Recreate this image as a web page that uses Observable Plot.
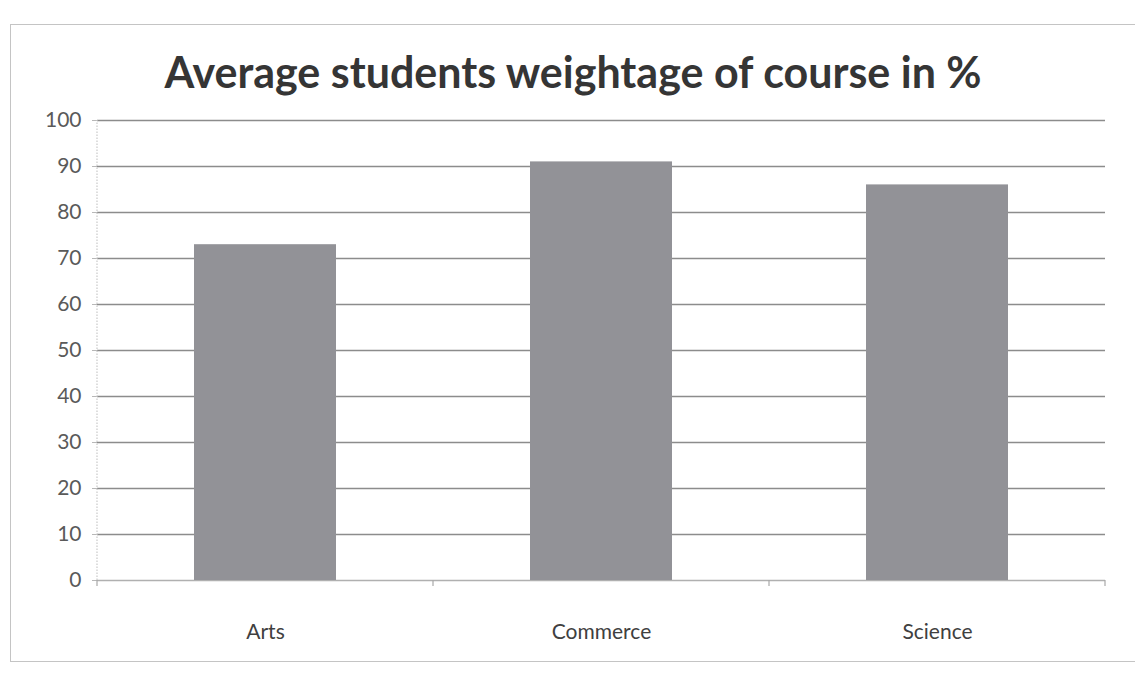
<!DOCTYPE html>
<html>
<head>
<meta charset="utf-8">
<script src="https://cdn.jsdelivr.net/npm/d3@7"></script>
<script src="https://cdn.jsdelivr.net/npm/@observablehq/plot@0.6"></script>
<style>
  html, body { margin: 0; padding: 0; background: #ffffff; overflow: hidden; }
  #page { position: relative; width: 1135px; height: 688px; }
  #frame { position: absolute; left: 10px; top: 24px; width: 1140px; height: 638px;
           border: 1px solid #c4c4c4; box-sizing: border-box; }
  #title { position: absolute; left: 0; top: 45px; width: 1146px; text-align: center;
           font-family: Lato, "Open Sans", sans-serif; font-weight: 700; font-size: 43px; color: #353535; line-height: 54px; }
  #chart { position: absolute; left: 0; top: 100px; }
</style>
</head>
<body>
<div id="page">
  <div id="frame"></div>
  <div id="title">Average students weightage of course in %</div>
  <div id="chart"></div>
</div>
<script>
const categories = ["Arts", "Commerce", "Science"];
const values = [73, 91, 86];
const yTicks = [0, 10, 20, 30, 40, 50, 60, 70, 80, 90, 100];

const data = categories.map((c, i) => ({course: c, value: values[i]}));

const chart = Plot.plot({
  width: 1135,
  height: 570,
  marginLeft: 97,
  marginRight: 30,
  marginTop: 20,
  marginBottom: 90,
  style: {fontFamily: "Lato, 'Open Sans', sans-serif", fontSize: "21px", color: "#595959", background: "transparent", overflow: "visible"},
  x: {domain: categories, paddingInner: 0.576, paddingOuter: 0.288, label: null},
  y: {domain: [0, 100], ticks: yTicks, label: null},
  marks: [
    Plot.ruleY(yTicks.filter(d => d > 0), {stroke: "#8c8c8c", strokeWidth: 1.6}),
    Plot.ruleY([0], {stroke: "#b0b0b0", strokeWidth: 1.4}),
    Plot.barY(data, {x: "course", y: "value", fill: "#929297"}),
    Plot.axisY({ticks: yTicks, tickSize: 5, tickPadding: 11, stroke: "#b8b8b8", fill: "#5a5a5a", fontSize: 21}),
    Plot.axisX({tickSize: 0, tickPadding: 44, fill: "#404040", fontSize: 21})
  ]
});

// band boundary ticks under the x axis and a faint vertical y-axis line, from the plot's own scales
const sx = chart.scale("x"), sy = chart.scale("y");
const xs = d3.scaleBand(sx.domain, sx.range).paddingInner(sx.paddingInner).paddingOuter(sx.paddingOuter);
const ys = d3.scaleLinear(sy.domain, sy.range);
const g = d3.select(chart).append("g").attr("stroke", "#a8a8a8").attr("stroke-width", 1.2);
const edges = categories.map(c => xs(c) + xs.bandwidth() / 2 - xs.step() / 2);
edges.push(xs(categories[categories.length - 1]) + xs.bandwidth() / 2 + xs.step() / 2);
for (const e of edges) {
  g.append("line").attr("x1", e).attr("x2", e).attr("y1", ys(0)).attr("y2", ys(0) + 6);
}
g.append("line").attr("x1", edges[0]).attr("x2", edges[0])
  .attr("y1", ys(0)).attr("y2", ys(100)).attr("stroke", "#c8c8c8").attr("stroke-dasharray", "1.5,1.5");

document.getElementById("chart").append(chart);
</script>
</body>
</html>
